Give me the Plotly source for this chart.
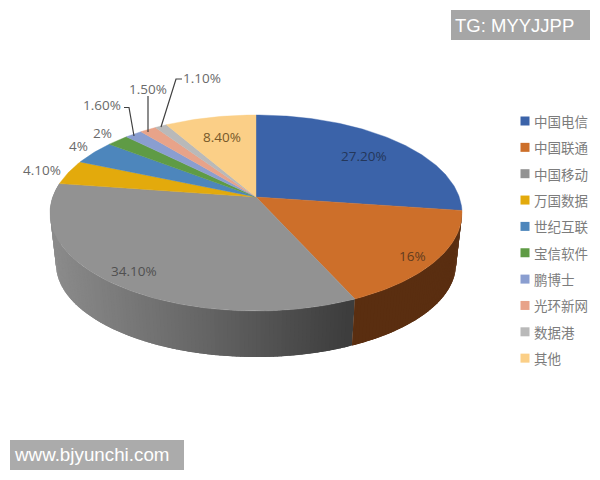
import math
import plotly.graph_objects as go

# ---------- data ----------
categories = ["中国电信", "中国联通", "中国移动", "万国数据", "世纪互联",
              "宝信软件", "鹏博士", "光环新网", "数据港", "其他"]
values = [27.2, 16, 34.1, 4.1, 4, 2, 1.6, 1.5, 1.1, 8.4]
value_labels = ["27.20%", "16%", "34.10%", "4.10%", "4%", "2%",
                "1.60%", "1.50%", "1.10%", "8.40%"]

# ---------- style / layout ----------
colors = ["#3b63a9", "#cd6f2a", "#929292", "#e3aa0c", "#4d86bc",
          "#5f9b45", "#8a9ed0", "#e8a389", "#b9b9b9", "#fbcf87"]
label_pos = [(364, 156), (412, 256), (134, 271), (42, 170), (78, 146),
             (102, 133), (102, 105), (148, 89), (202, 78), (222, 137)]
label_col = ["#24375a", "#633c1e", "#505050", "#6a6a6a", "#6a6a6a",
             "#6a6a6a", "#6a6a6a", "#6a6a6a", "#6a6a6a", "#77592a"]
FONT = "Open Sans, Noto Sans CJK SC"
CJK = "Noto Sans CJK SC"
LEG_X, LEG_Y0, LEG_DY = 525, 121, 26.35

CX, CY, RX, RY = 256, 213, 206, 98       # top ellipse
BX, BY, BRX, BRY = 256, 264, 200, 93     # bottom ellipse
D = 16 / 98                              # perspective shift of the pie centre


def project(deg, r=1.0):
    """Normalised disc coordinates after perspective (deg clockwise from top)."""
    t = math.radians(deg)
    u, v = r * math.sin(t), r * math.cos(t)
    w = 1 + D * v
    return u * math.sqrt(1 - D * D) / w, (v + D) / w


def top_pt(deg, r=1.0):
    u, v = project(deg, r)
    return CX + RX * u, CY - RY * v


def bot_pt(deg):
    u, v = project(deg)
    return BX + BRX * u, BY - BRY * v


def lerp_grey(x):
    stops = [(50, 0x8c), (200, 0x68), (354, 0x3d)]
    for (x0, c0), (x1, c1) in zip(stops, stops[1:]):
        if x <= x1:
            c = c0 + (c1 - c0) * (x - x0) / (x1 - x0)
            c = int(round(c))
            return f"rgb({c},{c},{c})"
    return "rgb(61,61,61)"


def wall_colour(i, x):
    return "#5a2e10" if i == 1 else lerp_grey(x)


fig = go.Figure()

cum = [0]
for v in values:
    cum.append(cum[-1] + v)
angles = [c * 3.6 for c in cum]

# side wall strips of the two front slices, left to right, each overlapping the last
for i in (2, 1):
    a0, a1 = angles[i], angles[i + 1]
    n = max(2, int((a1 - a0) / 1.0))
    for k in range(n - 1, -1, -1):
        s0 = a0 + (a1 - a0) * k / n
        s1 = min(a1, a0 + (a1 - a0) * (k + 1) / n + 1.2)
        p = [top_pt(s0)]
        p += [top_pt(s1), bot_pt(s1), bot_pt(s0), top_pt(s0)]
        col = wall_colour(i, p[0][0])
        fig.add_trace(go.Scatter(x=[q[0] for q in p], y=[q[1] for q in p],
                                 mode="lines", fill="toself", fillcolor=col,
                                 line=dict(width=0),
                                 showlegend=False, hoverinfo="skip"))

# top faces
for i, name in enumerate(categories):
    a0, a1 = angles[i], angles[i + 1]
    n = max(4, int((a1 - a0) / 1.0))
    arc = [top_pt(a0 + (a1 - a0) * k / n) for k in range(n + 1)]
    ax, ay = top_pt(0, 0)
    xs = [ax] + [q[0] for q in arc] + [ax]
    ys = [ay] + [q[1] for q in arc] + [ay]
    fig.add_trace(go.Scatter(x=xs, y=ys, mode="lines", fill="toself",
                             fillcolor=colors[i],
                             line=dict(color=colors[i], width=0.4),
                             name=name, showlegend=False, hoverinfo="name"))

# legend swatches
fig.add_trace(go.Scatter(x=[LEG_X] * len(categories),
                         y=[LEG_Y0 + LEG_DY * i for i in range(len(categories))],
                         mode="markers", showlegend=False, hoverinfo="skip",
                         marker=dict(symbol="square", size=9, color=colors)))

# leader lines
leaders = [[(124, 107.5), (129, 107.5), (134, 136)],
           [(148, 96), (148, 132)],
           [(182, 79), (176, 79), (161, 127)]]
for ln in leaders:
    fig.add_trace(go.Scatter(x=[q[0] for q in ln], y=[q[1] for q in ln],
                             mode="lines", line=dict(color="#404040", width=1.2),
                             showlegend=False, hoverinfo="skip"))

annotations = []
for txt, (x, y), col in zip(value_labels, label_pos, label_col):
    annotations.append(dict(x=x, y=y, xref="x", yref="y", text=txt, showarrow=False,
                            xanchor="center", yanchor="middle",
                            font=dict(family=FONT, size=13.5, color=col)))

for i, name in enumerate(categories):
    annotations.append(dict(x=LEG_X + 7, y=LEG_Y0 + LEG_DY * i, xref="x", yref="y",
                            text=name, showarrow=False,
                            xanchor="left", yanchor="middle",
                            font=dict(family=CJK, size=13.5, color="#7c7c7c")))

annotations.append(dict(x=453, y=25.5, xref="x", yref="y", text="TG: MYYJJPP",
                        showarrow=False, xanchor="left", yanchor="middle",
                        font=dict(family="Liberation Sans", size=18.5, color="white")))
annotations.append(dict(x=12, y=454.5, xref="x", yref="y", text="www.bjyunchi.com",
                        showarrow=False, xanchor="left", yanchor="middle",
                        font=dict(family="Liberation Sans", size=18.8, color="white")))

shapes = [
    dict(type="rect", xref="x", yref="y", x0=451, x1=590, y0=10, y1=40,
         fillcolor="#a6a6a6", line=dict(width=0), layer="above"),
    dict(type="rect", xref="x", yref="y", x0=10, x1=184, y0=440, y1=470,
         fillcolor="#ababab", line=dict(width=0), layer="above"),
]

fig.update_layout(
    width=600, height=480,
    margin=dict(l=0, r=0, t=0, b=0),
    paper_bgcolor="white", plot_bgcolor="white",
    xaxis=dict(range=[0, 600], visible=False, fixedrange=True),
    yaxis=dict(range=[480, 0], visible=False, fixedrange=True),
    showlegend=False,
    annotations=annotations,
    shapes=shapes,
)

fig.write_html("out.html", config=dict(displayModeBar=False),
               post_script="document.body.style.margin='0';document.body.style.overflow='hidden';")
